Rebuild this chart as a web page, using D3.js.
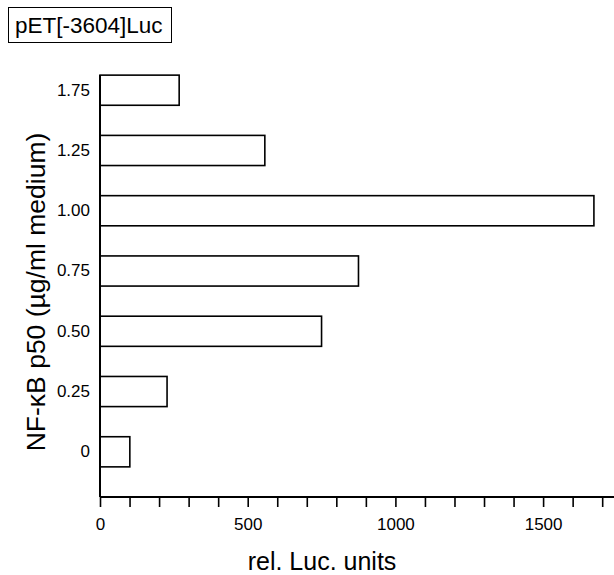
<!DOCTYPE html>
<html>
<head>
<meta charset="utf-8">
<script src="https://cdn.jsdelivr.net/npm/d3@7"></script>
<style>
  body { margin: 0; background: #fff; }
  svg { display: block; font-family: "Liberation Sans", Arial, sans-serif; }
</style>
</head>
<body>
<svg id="chart" width="614" height="575"></svg>
<script>
const title = "pET[-3604]Luc";
const categories = ["1.75", "1.25", "1.00", "0.75", "0.50", "0.25", "0"];
const values = [268, 558, 1672, 875, 750, 227, 101];
const xTickValues = [0,100,200,300,400,500,600,700,800,900,1000,1100,1200,1300,1400,1500,1600,1700];
const xTickLabels = [0, 500, 1000, 1500];
const xTitle = "rel. Luc. units";
const yTitle = "NF-\u03BAB p50 (\u00B5g/ml medium)";

const svg = d3.select("#chart");
const x0 = 100, axisY = 497, topY = 75;

const x = d3.scaleLinear().domain([0, 1740]).range([x0, 614]);
const y = d3.scaleBand().domain(categories).range([45, axisY]).paddingInner(0.5).paddingOuter(0.5);

// bars
svg.append("g").selectAll("rect").data(categories).join("rect")
  .attr("x", x(0))
  .attr("y", d => y(d))
  .attr("width", (d, i) => x(values[i]) - x(0))
  .attr("height", y.bandwidth())
  .attr("fill", "#fff")
  .attr("stroke", "#000")
  .attr("stroke-width", 1.6);

// x axis
const xAxis = d3.axisBottom(x)
  .tickValues(xTickValues)
  .tickSize(10)
  .tickSizeOuter(0)
  .tickFormat(d => xTickLabels.includes(d) ? d : "");
const gx = svg.append("g").attr("transform", `translate(0,${axisY})`).call(xAxis);
gx.attr("font-size", null).attr("font-family", null);
gx.select(".domain").attr("stroke-width", 2).attr("d", `M${x0},0H614`);
gx.selectAll(".tick line").attr("stroke-width", 1.6);
gx.selectAll(".tick text").style("font-size", "17px").attr("fill", "#000").attr("dy", "1.2em");

// y axis
const yAxis = d3.axisLeft(y).tickSize(0).tickPadding(10);
const gy = svg.append("g").attr("transform", `translate(${x0},0)`).call(yAxis);
gy.attr("font-size", null).attr("font-family", null);
gy.select(".domain").attr("stroke-width", 2).attr("d", `M0,${topY}V${axisY}`);
gy.selectAll(".tick text").style("font-size", "17px").attr("fill", "#000");

// axis titles
svg.append("text").attr("x", 322).attr("y", 570).attr("text-anchor", "middle")
  .style("font-size", "25px").text(xTitle);
svg.append("text").attr("transform", "translate(45,292) rotate(-90)").attr("text-anchor", "middle")
  .style("font-size", "26.5px").text(yTitle);

// title box
svg.append("rect").attr("x", 8.5).attr("y", 7.5).attr("width", 163).attr("height", 35)
  .attr("fill", "none").attr("stroke", "#000").attr("stroke-width", 1);
svg.append("text").attr("x", 15).attr("y", 33).style("font-size", "22.5px").text(title);
</script>
</body>
</html>
